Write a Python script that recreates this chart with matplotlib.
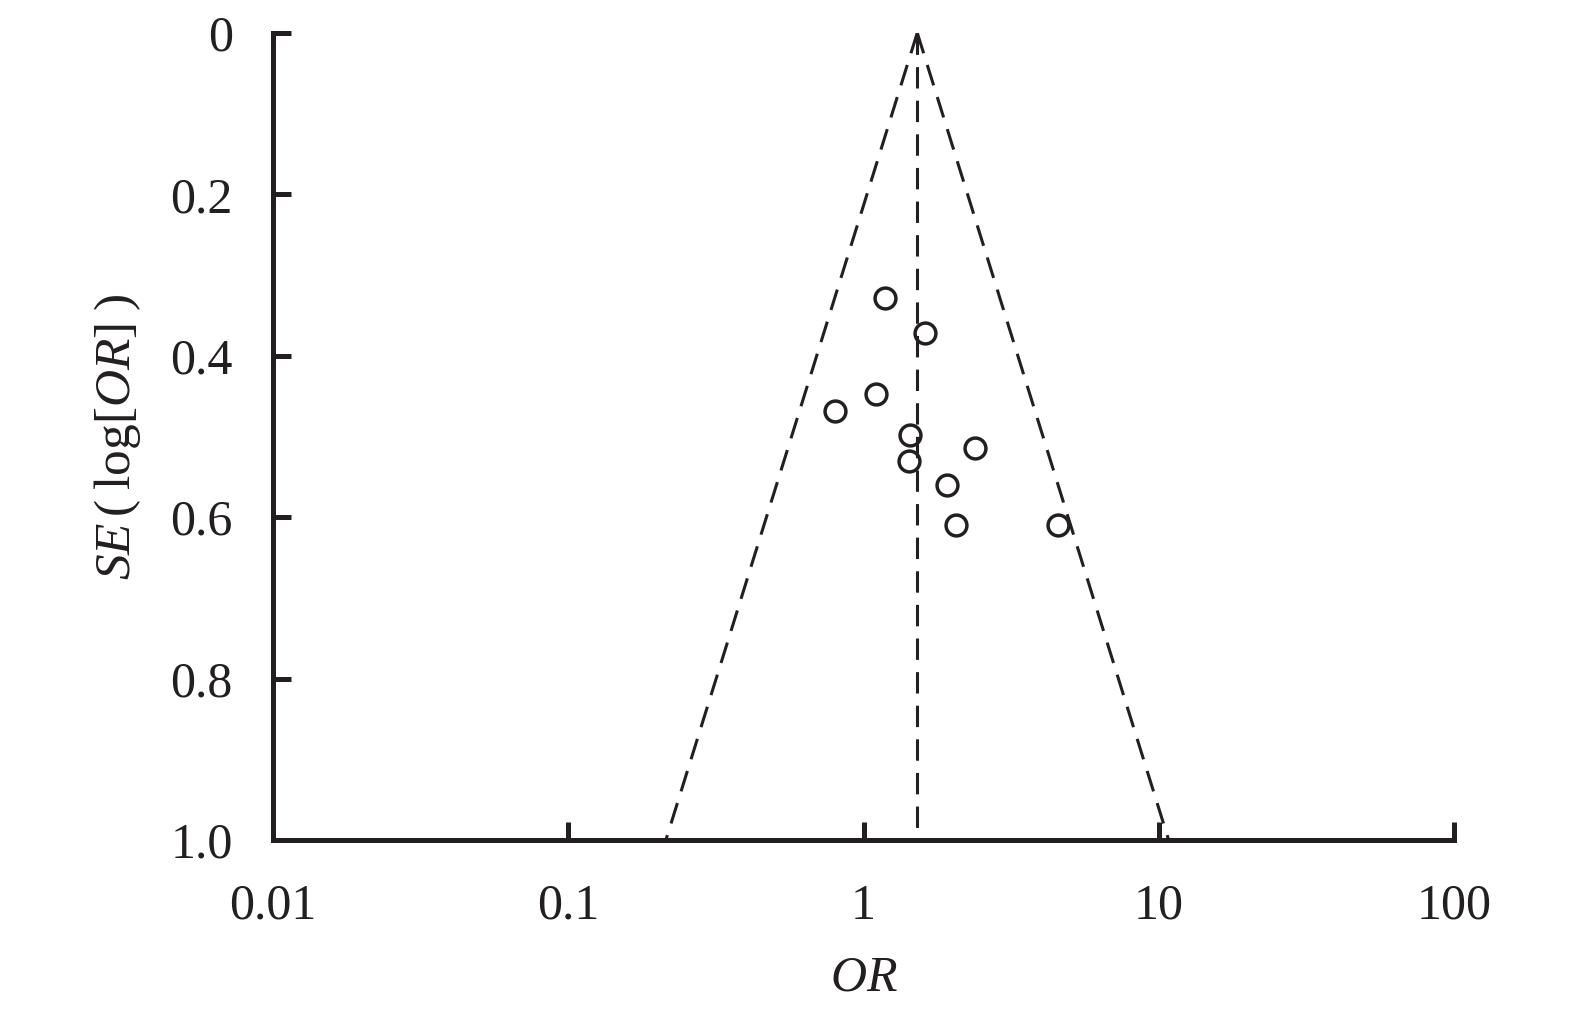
import numpy as np
import matplotlib
matplotlib.use("Agg")
import matplotlib.pyplot as plt

# ============================================
# DATA
# ============================================
study_or = [1.18, 1.62, 1.10, 0.80, 1.44, 1.42, 2.39, 1.91, 2.05, 4.55]
study_se = [0.329, 0.372, 0.448, 0.469, 0.498, 0.531, 0.514, 0.560, 0.610, 0.610]
pooled_or = 1.52
se_max = 1.0

x_ticks = [0.01, 0.1, 1, 10, 100]
x_tick_labels = ["0.01", "0.1", "1", "10", "100"]
y_ticks = [0, 0.2, 0.4, 0.6, 0.8, 1.0]
y_tick_labels = ["0", "0.2", "0.4", "0.6", "0.8", "1.0"]

# ============================================
# STYLE
# ============================================
plt.rcParams["font.family"] = ["Liberation Serif", "DejaVu Serif"]
plt.rcParams["mathtext.fontset"] = "custom"
plt.rcParams["mathtext.rm"] = "Liberation Serif"
plt.rcParams["mathtext.it"] = "Liberation Serif:italic"

ink = "#231f20"

fig = plt.figure(figsize=(15.75, 10.14), dpi=100)
ax = fig.add_axes([0.1733, 0.1716, 0.750, 0.796])

# funnel: 95% pseudo confidence limits
se_line = np.array([0.0, se_max])
lower = pooled_or * np.exp(-1.96 * se_line)
upper = pooled_or * np.exp(1.96 * se_line)
dash = (7, 4)
for xs in (lower, upper, [pooled_or, pooled_or]):
    ax.plot(xs, se_line, color=ink, lw=2.2, dashes=dash)

ax.plot(study_or, study_se, linestyle="none", marker="o", markersize=15,
        markerfacecolor="none", markeredgecolor=ink, markeredgewidth=2.5,
        zorder=3)

ax.set_xscale("log")
ax.set_xlim(0.01, 100)
ax.set_ylim(1.0, 0)

ax.set_xticks(x_ticks)
ax.set_xticklabels(x_tick_labels)
ax.minorticks_off()
ax.set_yticks(y_ticks)
ax.set_yticklabels(y_tick_labels)

for side in ["top", "right"]:
    ax.spines[side].set_visible(False)
for side in ["left", "bottom"]:
    ax.spines[side].set_linewidth(3.6)
    ax.spines[side].set_color(ink)
    ax.spines[side].set_capstyle("projecting")

ax.tick_params(axis="both", direction="in", length=13, width=3.6,
               color=ink, labelsize=36, labelcolor=ink)
ax.tick_params(axis="y", pad=29)
ax.tick_params(axis="x", pad=31)

ax.set_xlabel("$OR$", fontsize=36, color=ink, labelpad=18)
ax.set_ylabel(r"$SE\,(\;\mathrm{log}[OR]\;)$", fontsize=37, color=ink,
              labelpad=20)

fig.savefig("out.png", dpi=100)
